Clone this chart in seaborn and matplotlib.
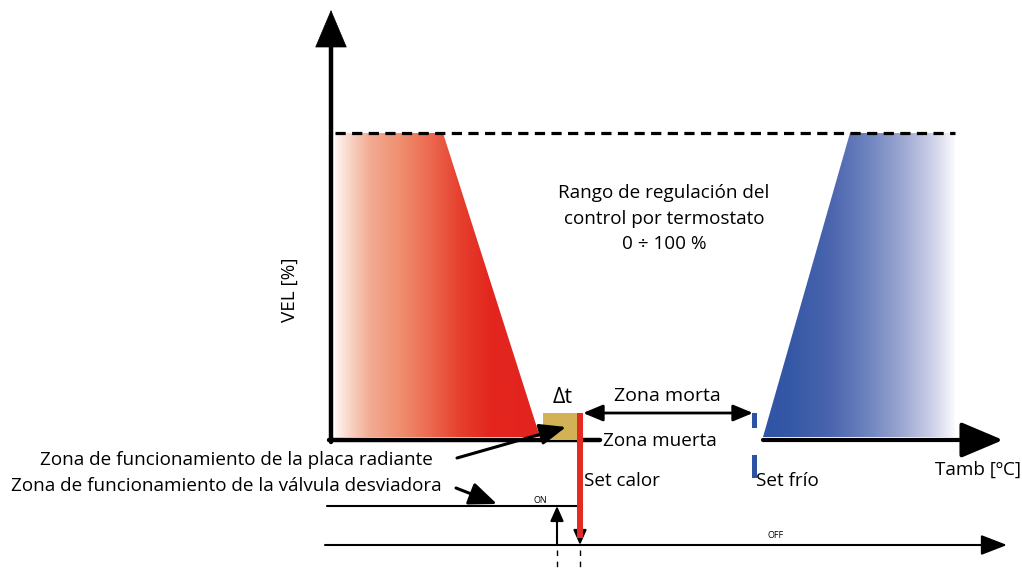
import numpy as np
import matplotlib
matplotlib.use("Agg")
import matplotlib.pyplot as plt
import seaborn as sns
import pandas as pd
from matplotlib.colors import LinearSegmentedColormap
from matplotlib.patches import Polygon, Rectangle

# ---------------- data (diagram units = pixel grid, y downward) ----------------
axis_origin = (331, 440)
y_axis_top = 10
x_axis_end = 1003
vel_max_y = 133                      # 100 % level
heat_x = [335, 443, 540, 335]        # heating ramp (red)
heat_y = [133, 133, 437, 437]
cool_x = [763, 850, 955, 955]        # cooling ramp (blue)
cool_y = [437, 133, 133, 437]
dash_x = [335, 955]
delta_box = (543, 413, 34, 27)       # x, y, w, h  (Δt)
set_calor_x = 580
set_frio_x = 754
on_y = 506
off_y = 545
on_x = [327, 580]
off_x = [325, 1007]
up_arrow_x = 557
gap_x = [600, 763]

labels_center = ["Rango de regulación del", "control por termostato", "0 ÷ 100 %"]

sns.set_theme(style="white")
plt.rcParams['font.family'] = ['Open Sans', 'DejaVu Sans']
plt.rcParams['text.color'] = 'black'

W, H = 1022, 569
fig = plt.figure(figsize=(W / 100, H / 100), dpi=100)
ax = fig.add_axes([0, 0, 1, 1])
ax.set_xlim(0, W)
ax.set_ylim(H, 0)
ax.axis('off')

# ---------------- gradient ramps ----------------
def gradient_poly(xs, ys, stops, x0, x1):
    cmap = LinearSegmentedColormap.from_list("g", stops)
    grad = np.linspace(0, 1, 512).reshape(1, -1)
    im = ax.imshow(grad, cmap=cmap, extent=[x0, x1, max(ys), min(ys)],
                   aspect='auto', zorder=1, interpolation='bicubic')
    poly = Polygon(list(zip(xs, ys)), closed=True, transform=ax.transData,
                   facecolor='none', edgecolor='none')
    ax.add_patch(poly)
    im.set_clip_path(poly)

gradient_poly(heat_x, heat_y,
              [(0.0, "#fff6f2"), (0.073, "#f9d3c5"), (0.17, "#f3ab93"), (0.317, "#ef8f70"),
               (0.46, "#ec6a50"), (0.61, "#e6402e"), (0.756, "#e3261f"), (1.0, "#e3241e")],
              335, 540)
gradient_poly(cool_x, cool_y,
              [(0.0, "#2f55a5"), (0.14, "#3558a6"), (0.345, "#4a64ae"), (0.55, "#7085c0"),
               (0.71, "#9aa5d0"), (0.86, "#c8cce6"), (0.97, "#f2f2f9"), (1.0, "#ffffff")],
              763, 957)

# ---------------- lines via seaborn ----------------
def seg(xs, ys, **kw):
    df = pd.DataFrame({"x": xs, "y": ys})
    sns.lineplot(data=df, x="x", y="y", sort=False, estimator=None, ax=ax, **kw)

seg(dash_x, [vel_max_y, vel_max_y], color="black", lw=2.3, linestyle=(0, (3.2, 2.0)), zorder=3)
seg([axis_origin[0], axis_origin[0]], [axis_origin[1] + 2, 40], color="black", lw=3.2, zorder=4)
seg([axis_origin[0] - 2, gap_x[0]], [axis_origin[1], axis_origin[1]], color="black", lw=3.2, zorder=4)
seg(on_x, [on_y, on_y], color="black", lw=1.5, zorder=4)
seg([on_x[1], on_x[1]], [on_y, off_y - 8], color="black", lw=1.5, zorder=4)
seg([off_x[0], 990], [off_y, off_y], color="black", lw=1.5, zorder=4)
for xx in [up_arrow_x, set_calor_x]:
    seg([xx, xx], [550, 569], color="black", lw=1.0, linestyle=(0, (4, 4)), zorder=4)

ax.set_xlim(0, W)
ax.set_ylim(H, 0)
ax.axis('off')

def arrow(start, tip, lw, hl, hw, color="black", style="-|>"):
    ax.annotate("", xy=tip, xytext=start,
                arrowprops=dict(arrowstyle=f"{style},head_length={hl},head_width={hw}",
                                lw=lw, color=color, shrinkA=0, shrinkB=0,
                                mutation_scale=10), zorder=6)

# axis arrows
arrow((axis_origin[0], 60), (axis_origin[0], y_axis_top), 0.5, 2.6, 1.1)
arrow((gap_x[1], axis_origin[1]), (x_axis_end, axis_origin[1]), 3.0, 2.6, 1.1)
arrow((980, off_y), (off_x[1], off_y), 1.5, 1.6, 0.62)

# Δt box and set points
ax.add_patch(Rectangle((delta_box[0], delta_box[1]), delta_box[2], delta_box[3],
                       facecolor="#d3b257", edgecolor="none", zorder=5))
ax.add_patch(Rectangle((set_calor_x - 3, 413), 6, 125, facecolor="#e52a24",
                       edgecolor="none", zorder=7))
arrow((set_calor_x, off_y - 12), (set_calor_x, off_y), 1.5, 0.9, 0.4)
arrow((up_arrow_x, off_y), (up_arrow_x, on_y), 1.5, 0.9, 0.4)
ax.add_patch(Rectangle((set_frio_x - 2.5, 413), 5, 15, facecolor="#2c52a3",
                       edgecolor="none", zorder=5))
ax.add_patch(Rectangle((set_frio_x - 2.5, 455), 5, 23, facecolor="#2c52a3",
                       edgecolor="none", zorder=5))

# Zona morta double arrow
arrow((set_calor_x + 3, 413), (set_frio_x - 1, 413), 2.0, 1.2, 0.5, style="<|-|>")

# pointer arrows
arrow((457, 458), (566, 427), 2.2, 1.6, 0.65)
arrow((456, 488), (497, 504), 2.2, 1.7, 0.7)

# ---------------- texts ----------------
fs = 13.6
for i, t in enumerate(labels_center):
    ax.text(664, 193 + i * 25.5, t, ha="center", va="center", fontsize=fs)
ax.text(290, 290, "VEL [%]", rotation=90, ha="center", va="center", fontsize=fs)
ax.text(563, 397, "Δt", ha="center", va="center", fontsize=15.5)
ax.text(667, 396, "Zona morta", ha="center", va="center", fontsize=14)
ax.text(603, 441, "Zona muerta", ha="left", va="center", fontsize=fs)
ax.text(584, 481, "Set calor", ha="left", va="center", fontsize=fs)
ax.text(756, 481, "Set frío", ha="left", va="center", fontsize=fs)
ax.text(1021, 470, "Tamb [ºC]", ha="right", va="center", fontsize=fs)
ax.text(236, 460, "Zona de funcionamiento de la placa radiante", ha="center", va="center", fontsize=fs)
ax.text(226, 486, "Zona de funcionamiento de la válvula desviadora", ha="center", va="center", fontsize=fs)
ax.text(540, 500, "ON", ha="center", va="center", fontsize=6.5)
ax.text(776, 535, "OFF", ha="center", va="center", fontsize=6.5)

fig.savefig("out.png", dpi=100)
